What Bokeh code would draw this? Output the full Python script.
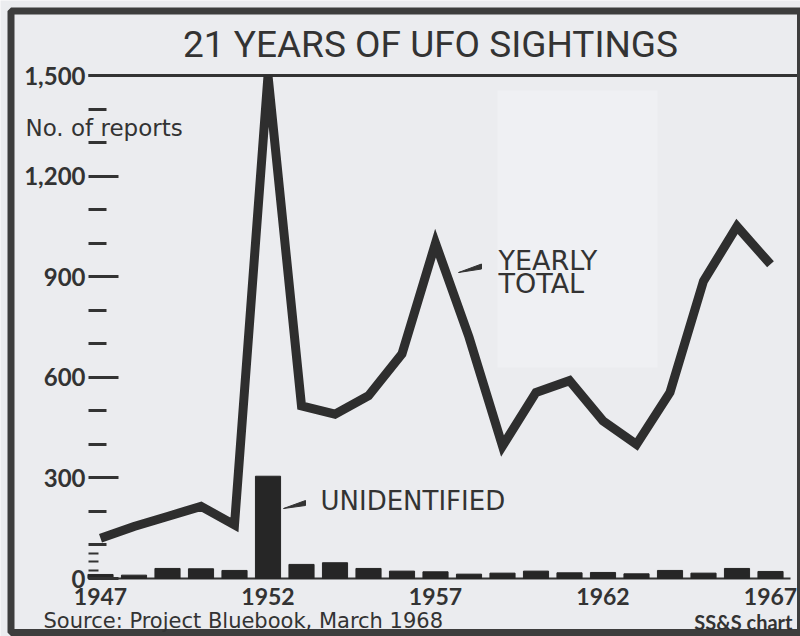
from bokeh.plotting import figure
from bokeh.models import (FixedTicker, NumeralTickFormatter, LinearAxis,
                          Label, Range1d, ColumnDataSource)
from bokeh.embed import file_html
from bokeh.resources import INLINE

# ---------------- data ----------------
years = list(range(1947, 1968))
yearly_total = [120, 155, 185, 215, 160, 1500, 515, 490, 545, 670, 1000,
                720, 395, 555, 590, 470, 400, 555, 887, 1050, 937]
unidentified = [12, 10, 30, 29, 24, 305, 42, 47, 30, 22, 20,
                13, 16, 22, 17, 18, 14, 24, 16, 30, 21]
y_major_ticks = [0, 300, 600, 900, 1200, 1500]
y_minor_ticks = [100, 200, 400, 500, 700, 800, 1000, 1100, 1300, 1400]
y_fine_ticks = [25, 50, 75]
x_tick_years = [1947, 1952, 1957, 1962, 1967]

title_text = "21 YEARS OF UFO SIGHTINGS"
y_title = "No. of reports"
source_text = "Source:  Project Bluebook, March 1968"
credit_text = "SS&S chart"

# ---------------- layout helpers (canvas pixel -> data) ----------------
W, H = 800, 636
PX_PER_YEAR = 33.5
PX_PER_REPORT = 503 / 1500.0


def px_x(px):
    return 1947 + (px - 100) / PX_PER_YEAR


def px_y(py):
    return (578 - py) / PX_PER_REPORT


BG = "#ebecef"
INK = "#333333"

p = figure(width=W, height=H,
           x_range=Range1d(px_x(0), px_x(W)), y_range=Range1d(px_y(H), px_y(0)),
           output_backend="svg", toolbar_location=None,
           min_border_left=0, min_border_right=0,
           min_border_top=0, min_border_bottom=0,
           background_fill_color=BG, border_fill_color=BG,
           outline_line_color=None)
p.grid.visible = False

axis_x = px_x(88)   # where the value axis stands

# faint lighter paste-up patch of the original print, behind everything
p.quad(left=[px_x(497)], right=[px_x(657)], top=[px_y(90)], bottom=[px_y(367)],
       fill_color="#eff0f3", line_color=None, level="underlay")

# x axis: year labels only, on the zero line
xa = p.xaxis[0]
xa.fixed_location = 0
xa.ticker = FixedTicker(ticks=x_tick_years)
xa.axis_line_color = None
xa.major_tick_line_color = None
xa.minor_tick_line_color = None
xa.major_tick_in = 0
xa.major_tick_out = 0
xa.major_label_standoff = 9
xa.major_label_text_font = "Lato"
xa.major_label_text_font_style = "bold"
xa.major_label_text_font_size = "23px"
xa.major_label_text_color = INK

# y axis: ticks pointing inward
ya = p.yaxis[0]
ya.fixed_location = axis_x
ya.ticker = FixedTicker(ticks=y_major_ticks, minor_ticks=y_minor_ticks)
ya.formatter = NumeralTickFormatter(format="0,0")
ya.axis_line_color = None
ya.major_tick_in = 30
ya.major_tick_out = 0
ya.minor_tick_in = 18
ya.minor_tick_out = 0
ya.major_tick_line_width = 3
ya.minor_tick_line_width = 3
ya.major_tick_line_color = INK
ya.minor_tick_line_color = INK
ya.major_label_standoff = 3
ya.major_label_text_font = "Lato"
ya.major_label_text_font_style = "bold"
ya.major_label_text_font_size = "24px"
ya.major_label_text_color = INK

fine = LinearAxis(fixed_location=axis_x,
                  ticker=FixedTicker(ticks=y_fine_ticks, minor_ticks=[]),
                  axis_line_color=None, major_tick_in=10, major_tick_out=0,
                  minor_tick_in=0, minor_tick_out=0,
                  major_tick_line_width=2, major_tick_line_color=INK,
                  major_label_text_font_size="0px", major_label_standoff=0,
                  major_label_text_color=None)
p.add_layout(fine, "left")

src = ColumnDataSource(dict(year=years, total=yearly_total, unid=unidentified))

# top rule (at 1,500) and baseline (at 0)
p.segment(x0=[axis_x, axis_x], x1=[px_x(W), px_x(790)], y0=[1500, 0], y1=[1500, 0],
          line_color=INK, line_width=[3, 2])

p.vbar(x="year", top="unid", bottom=0, width=0.75, source=src,
       fill_color="#262626", line_color="#262626")
p.line(x="year", y="total", source=src, line_color="#2e2e2e", line_width=9,
       line_join="miter")

# leader wedges pointing from labels to the series
leaders_px = [[(458, 272), (481, 263.5), (481, 268.5)],
              [(283, 508), (305, 500), (305, 505)]]
p.patches(xs=[[px_x(a) for a, b in w] for w in leaders_px],
          ys=[[px_y(b) for a, b in w] for w in leaders_px],
          fill_color=INK, line_color=INK, line_width=1)


def label(px, py, text, font, size, align="left", style="normal"):
    p.add_layout(Label(x=px_x(px), y=px_y(py), text=text, text_align=align,
                       text_baseline="middle", text_font=font,
                       text_font_style=style, text_font_size=size,
                       text_color=INK))


label(430, 44, title_text, "Roboto", "37px", align="center")
label(25, 127, y_title, "DejaVu Sans", "23px")
label(498, 260, "YEARLY", "DejaVu Sans", "27px")
label(498, 283, "TOTAL", "DejaVu Sans", "27px")
label(320, 500, "UNIDENTIFIED", "DejaVu Sans", "26px")
label(43, 620, source_text, "DejaVu Sans", "21px")
label(792, 621, credit_text, "Lato", "20px", align="right", style="bold")

# outer frame of the chart
p.quad(left=[px_x(10.5)], right=[px_x(800)], top=[px_y(10.5)], bottom=[px_y(632)],
       fill_color=None, line_color="#3d3d3d", line_width=7)

open("out.html", "w").write(file_html(p, INLINE))
